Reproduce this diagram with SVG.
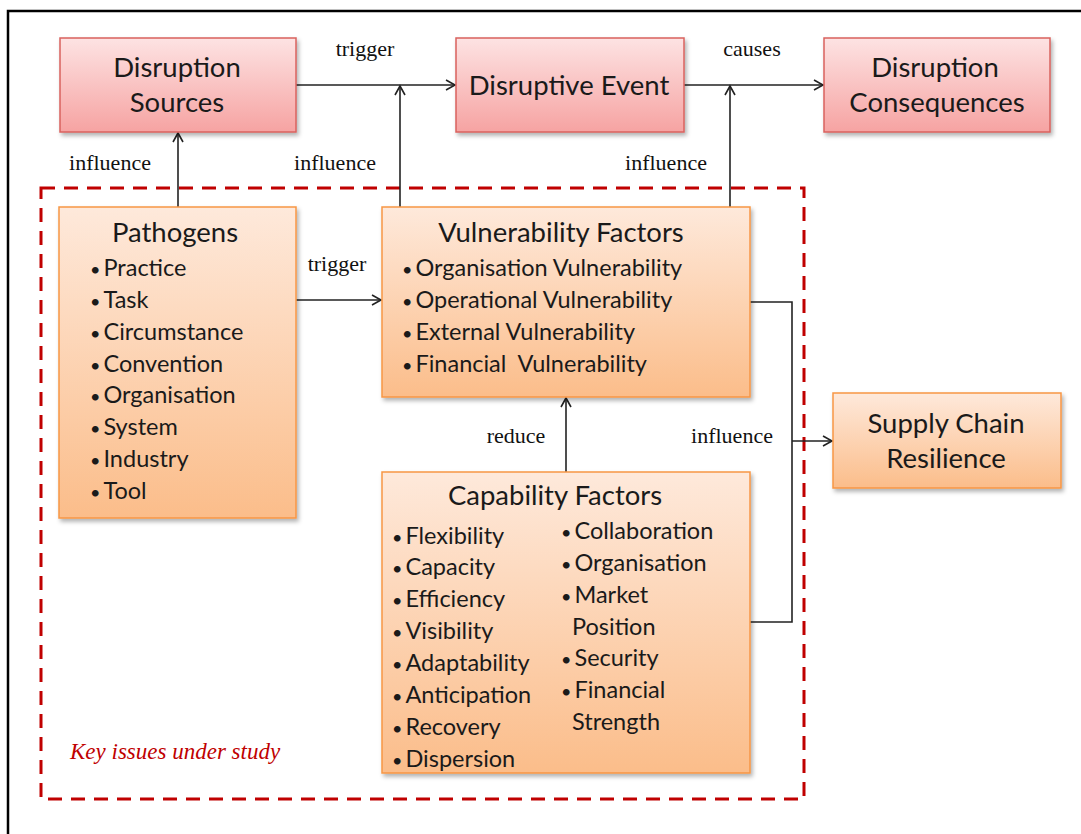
<svg xmlns="http://www.w3.org/2000/svg" width="1081" height="834" viewBox="0 0 1081 834">
<defs>
<linearGradient id="gPink" x1="0" y1="0" x2="0" y2="1">
<stop offset="0" stop-color="#fde3e3"/>
<stop offset="1" stop-color="#f6a3a2"/>
</linearGradient>
<linearGradient id="gOrange" x1="0" y1="0" x2="0" y2="1">
<stop offset="0" stop-color="#fee9db"/>
<stop offset="1" stop-color="#fbbd8a"/>
</linearGradient>
<filter id="sh" x="-10%" y="-10%" width="130%" height="130%">
<feDropShadow dx="2" dy="3" stdDeviation="2" flood-color="#000" flood-opacity="0.3"/>
</filter>
<marker id="arr" markerWidth="14" markerHeight="14" refX="12" refY="7" orient="auto" markerUnits="userSpaceOnUse">
<polyline points="3,2 12,7 3,12" fill="none" stroke="#222" stroke-width="1.6"/>
</marker>
</defs>
<style>
.pink{fill:url(#gPink);stroke:#d9625e;stroke-width:1.5;filter:url(#sh)}
.orange{fill:url(#gOrange);stroke:#f79646;stroke-width:1.5;filter:url(#sh)}
.bt{font-family:Lato,"Open Sans",sans-serif;font-size:27.5px;fill:#1a1a1a;text-anchor:middle}
.it{font-family:Lato,"Open Sans",sans-serif;font-size:23.5px;fill:#1a1a1a}
.b{font-size:18px}
.lbl{font-family:"Liberation Serif","DejaVu Serif",serif;font-size:22px;fill:#111;text-anchor:middle}
.con{fill:none;stroke:#222;stroke-width:1.6}
.arrow{marker-end:url(#arr)}
</style>
<rect width="1081" height="834" fill="#fff"/>
<path d="M8,834 V11 H1081" fill="none" stroke="#000" stroke-width="2.5"/>
<g id="key-issues">
<rect x="41" y="188" width="763" height="611" fill="none" stroke="#c00000" stroke-width="3" stroke-dasharray="14,9"/>
<text x="70" y="759" font-family="Liberation Serif,DejaVu Serif,serif" font-style="italic" font-size="23" fill="#c00000">Key issues under study</text>
</g>
<g id="connectors">
<line class="con arrow" x1="178" y1="207" x2="178" y2="133"/>
<line class="con arrow" x1="296" y1="85" x2="455" y2="85"/>
<line class="con arrow" x1="400" y1="207" x2="400" y2="86"/>
<line class="con arrow" x1="684" y1="85" x2="823" y2="85"/>
<line class="con arrow" x1="730" y1="207" x2="730" y2="86"/>
<line class="con arrow" x1="296" y1="300" x2="381" y2="300"/>
<line class="con arrow" x1="566" y1="472" x2="566" y2="398"/>
<path class="con" d="M750,302 H792 V622 H750"/>
<line class="con arrow" x1="792" y1="441" x2="832" y2="441"/>
<text class="lbl" x="110" y="170">influence</text>
<text class="lbl" x="365" y="56">trigger</text>
<text class="lbl" x="335" y="170">influence</text>
<text class="lbl" x="752" y="56">causes</text>
<text class="lbl" x="666" y="170">influence</text>
<text class="lbl" x="337" y="271">trigger</text>
<text class="lbl" x="516" y="443">reduce</text>
<text class="lbl" x="732" y="443">influence</text>
</g>
<g id="disruption-sources">
<rect class="pink" x="60" y="38" width="236" height="94"/>
<text class="bt" x="177" y="77">Disruption</text>
<text class="bt" x="177" y="112">Sources</text>
</g>
<g id="disruptive-event">
<rect class="pink" x="456" y="38" width="228" height="94"/>
<text class="bt" x="569" y="95">Disruptive Event</text>
</g>
<g id="disruption-consequences">
<rect class="pink" x="824" y="38" width="226" height="94"/>
<text class="bt" x="935" y="77">Disruption</text>
<text class="bt" x="937" y="112">Consequences</text>
</g>
<g id="pathogens">
<rect class="orange" x="59" y="207" width="237" height="311"/>
<text class="bt" x="175" y="242">Pathogens</text>
<g class="it">
<text x="90" y="276"><tspan class="b">•</tspan><tspan dx="3">Practice</tspan></text>
<text x="90" y="308"><tspan class="b">•</tspan><tspan dx="3">Task</tspan></text>
<text x="90" y="340"><tspan class="b">•</tspan><tspan dx="3">Circumstance</tspan></text>
<text x="90" y="372"><tspan class="b">•</tspan><tspan dx="3">Convention</tspan></text>
<text x="90" y="403"><tspan class="b">•</tspan><tspan dx="3">Organisation</tspan></text>
<text x="90" y="435"><tspan class="b">•</tspan><tspan dx="3">System</tspan></text>
<text x="90" y="467"><tspan class="b">•</tspan><tspan dx="3">Industry</tspan></text>
<text x="90" y="499"><tspan class="b">•</tspan><tspan dx="3">Tool</tspan></text>
</g>
</g>
<g id="vulnerability-factors">
<rect class="orange" x="382" y="207" width="368" height="190"/>
<text class="bt" x="561" y="242">Vulnerability Factors</text>
<g class="it">
<text x="402" y="276"><tspan class="b">•</tspan><tspan dx="3">Organisation Vulnerability</tspan></text>
<text x="402" y="308"><tspan class="b">•</tspan><tspan dx="3">Operational Vulnerability</tspan></text>
<text x="402" y="340"><tspan class="b">•</tspan><tspan dx="3">External Vulnerability</tspan></text>
<text x="402" y="372"><tspan class="b">•</tspan><tspan dx="3">Financial&#160; Vulnerability</tspan></text>
</g>
</g>
<g id="capability-factors">
<rect class="orange" x="382" y="472" width="368" height="301"/>
<text class="bt" x="555" y="505">Capability Factors</text>
<g class="it">
<text x="392" y="544"><tspan class="b">•</tspan><tspan dx="3">Flexibility</tspan></text>
<text x="392" y="575"><tspan class="b">•</tspan><tspan dx="3">Capacity</tspan></text>
<text x="392" y="607"><tspan class="b">•</tspan><tspan dx="3">Efficiency</tspan></text>
<text x="392" y="639"><tspan class="b">•</tspan><tspan dx="3">Visibility</tspan></text>
<text x="392" y="671"><tspan class="b">•</tspan><tspan dx="3">Adaptability</tspan></text>
<text x="392" y="703"><tspan class="b">•</tspan><tspan dx="3">Anticipation</tspan></text>
<text x="392" y="735"><tspan class="b">•</tspan><tspan dx="3">Recovery</tspan></text>
<text x="392" y="767"><tspan class="b">•</tspan><tspan dx="3">Dispersion</tspan></text>
<text x="561" y="539"><tspan class="b">•</tspan><tspan dx="3">Collaboration</tspan></text>
<text x="561" y="571"><tspan class="b">•</tspan><tspan dx="3">Organisation</tspan></text>
<text x="561" y="603"><tspan class="b">•</tspan><tspan dx="3">Market</tspan></text>
<text x="572" y="635">Position</text>
<text x="561" y="666"><tspan class="b">•</tspan><tspan dx="3">Security</tspan></text>
<text x="561" y="698"><tspan class="b">•</tspan><tspan dx="3">Financial</tspan></text>
<text x="572" y="730">Strength</text>
</g>
</g>
<g id="supply-chain-resilience">
<rect class="orange" x="833" y="393" width="228" height="95"/>
<text class="bt" x="946" y="433">Supply Chain</text>
<text class="bt" x="946" y="468">Resilience</text>
</g>
</svg>
